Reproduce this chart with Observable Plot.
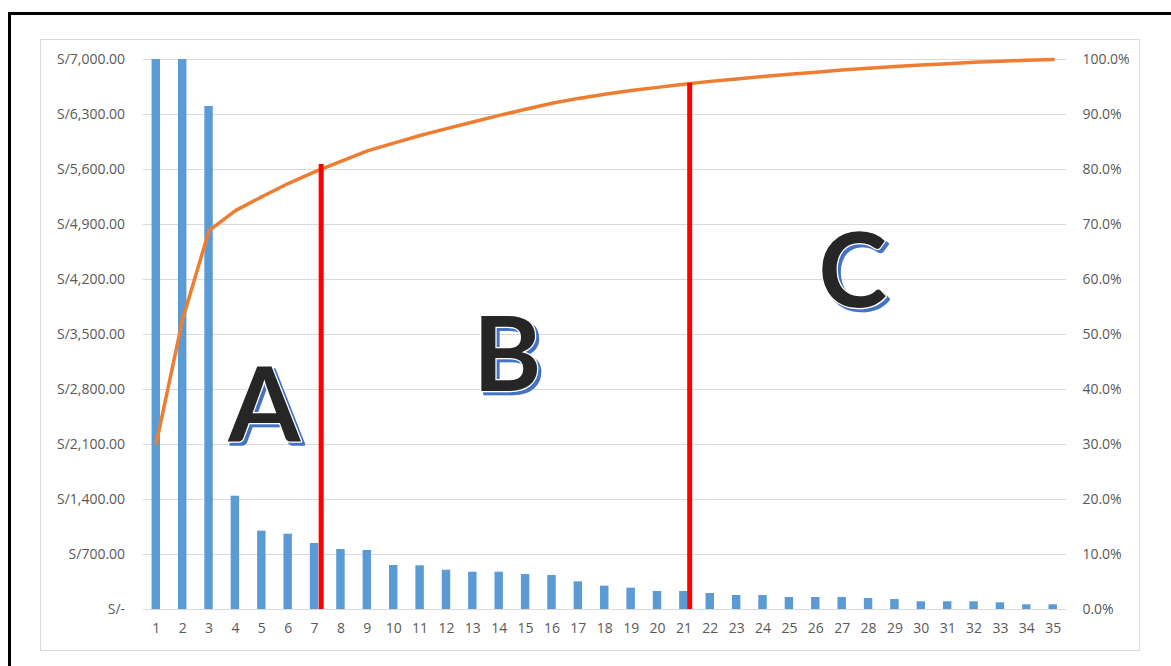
<!DOCTYPE html>
<html>
<head>
<meta charset="utf-8">
<script src="https://cdn.jsdelivr.net/npm/d3@7"></script>
<script src="https://cdn.jsdelivr.net/npm/@observablehq/plot@0.6"></script>
<style>
  html, body { margin: 0; padding: 0; background: #fff; }
  #wrap { position: relative; width: 1171px; height: 666px; overflow: hidden; }
  #outer { position: absolute; left: 7.5px; top: 11.5px; width: 1200px; height: 700px;
           border-left: 3px solid #000; border-top: 3px solid #000; box-sizing: border-box; }
  #inner { position: absolute; left: 40px; top: 39px; width: 1100px; height: 612px;
           border: 1px solid #D9D9D9; box-sizing: border-box; }
  #chart { position: absolute; left: 0; top: 0; }
</style>
</head>
<body>
<div id="wrap">
  <div id="outer"></div>
  <div id="inner"></div>
  <div id="chart"></div>
</div>
<script>
// Categories (items) 1..35
const categories = [1,2,3,4,5,6,7,8,9,10,11,12,13,14,15,16,17,18,19,20,21,22,23,24,25,26,27,28,29,30,31,32,33,34,35];
// Values in S/ (bars 1 and 2 exceed the axis maximum and are clipped)
const values = [12000, 8980, 6402, 1442, 997, 958, 840, 764, 751, 560, 556, 500, 475, 475, 445, 433, 352, 297, 271, 229, 229, 204, 178, 178, 153, 153, 153, 140, 127, 98, 98, 98, 85, 60, 60];
// Left axis ticks (S/)
const leftTicks = [0, 700, 1400, 2100, 2800, 3500, 4200, 4900, 5600, 6300, 7000];
// Right axis ticks (%)
const rightTicks = [0, 10, 20, 30, 40, 50, 60, 70, 80, 90, 100];
// ABC divider lines: position along item axis and height (% cumulative)
const dividerPos = [7.25, 21.22];
const dividerPct = [80.9, 95.7];
// Zone labels
const zoneLabels = ["A", "B", "C"];
const zonePos = [5.1, 14.3, 27.4];
const zonePct = [30.7, 39.8, 55.0];

const yMax = 7000;
const pctToY = p => p / 100 * yMax;

const total = d3.sum(values);
const cum = d3.cumsum(values);
const data = categories.map((c, i) => ({cat: c, value: values[i], pct: cum[i] / total * 100}));
const dividers = dividerPos.map((x, i) => ({x, pct: dividerPct[i]}));
const zones = zoneLabels.map((t, i) => ({t, x: zonePos[i], pct: zonePct[i]}));

const fmtMoney = v => v === 0 ? "S/-" : "S/" + d3.format(",.2f")(v);

const chart = Plot.plot({
  width: 1171,
  height: 666,
  marginLeft: 142.6,
  marginRight: 105.1,
  marginTop: 59,
  marginBottom: 57,
  style: {background: "transparent", fontFamily: "'Open Sans', sans-serif", fontSize: "14px", color: "#595959"},
  x: {domain: [0.5, 35.5], axis: null},
  y: {domain: [0, yMax], clamp: true, axis: null},
  marks: [
    Plot.ruleY(leftTicks, {stroke: "#D9D9D9", strokeWidth: 1}),
    Plot.axisY({anchor: "left", ticks: leftTicks, tickSize: 0, tickPadding: 18, tickFormat: fmtMoney, label: null, fill: "#595959"}),
    Plot.axisY({anchor: "right", ticks: rightTicks.map(pctToY), tickSize: 0, tickPadding: 16,
                tickFormat: d => (d / yMax * 100).toFixed(1) + "%", label: null, fill: "#595959"}),
    Plot.axisX({anchor: "bottom", ticks: categories, tickSize: 0, tickPadding: 14, tickFormat: d => String(d), label: null, fill: "#595959"}),
    Plot.rectY(data, {x1: d => d.cat - 0.16, x2: d => d.cat + 0.16, y: "value", fill: "#5B9BD5"}),
    Plot.line(data, {x: "cat", y: d => pctToY(d.pct), stroke: "#ED7D31", strokeWidth: 3.5, strokeLinejoin: "round", strokeLinecap: "round"}),
    Plot.ruleX(dividers, {x: "x", y1: 0, y2: d => pctToY(d.pct), stroke: "#FF0000", strokeWidth: 5}),
    Plot.text(zones, {x: "x", y: d => pctToY(d.pct), text: "t", lineAnchor: "bottom",
                      fill: "#262626", stroke: "#ffffff", strokeWidth: 2.5, fontSize: 104, fontWeight: "bold",
                      fontFamily: "Lato, 'Open Sans', sans-serif"})
  ]
});
// blue offset shadow behind the zone letters (as in the reference's text effect)
const textGroups = chart.querySelectorAll('g[aria-label="text"]');
const zoneGroup = textGroups[textGroups.length - 1];
if (zoneGroup) zoneGroup.setAttribute("style", "filter: drop-shadow(3px 3px 0px #4472C4)");
document.getElementById("chart").appendChild(chart);
</script>
</body>
</html>
